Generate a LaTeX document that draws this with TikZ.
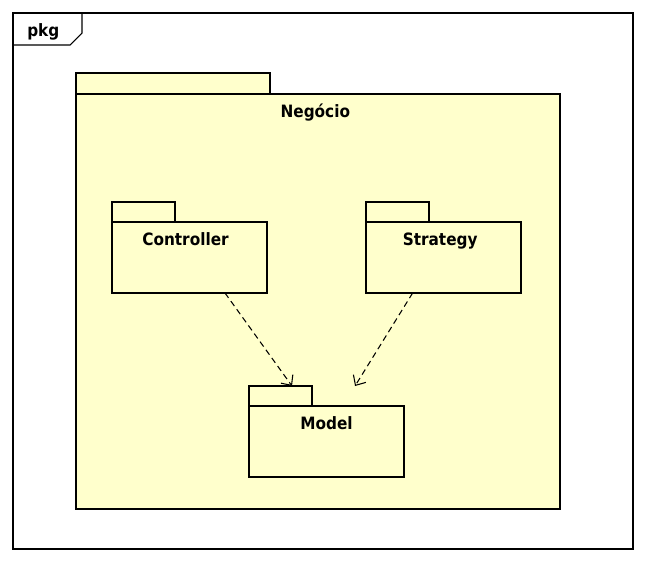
\documentclass[tikz,border=0pt]{standalone}
\usepackage{fontspec}
\newfontfamily\umlfont{DejaVu Sans}[FakeStretch=0.9]
\usepackage{tikz}
\usetikzlibrary{positioning, arrows.meta}
\definecolor{pkgyellow}{RGB}{255,255,204}
\tikzset{x=0.75pt, y=-0.75pt, % one unit is one pixel of the picture
pkgbody/.style={draw, line width=2pt, fill=pkgyellow, outer sep=0pt, inner sep=0pt}, % body of a package
pkgtab/.style={pkgbody, anchor=south west, minimum width=47.25pt, minimum height=15pt}, % tab on top of a package
smallpkg/.style={pkgbody, minimum width=116.25pt, minimum height=53.25pt},
pkglabel/.style={font=\umlfont\bfseries\fontsize{12.75}{15}\selectfont, inner sep=0pt, anchor=base},
dep/.style={dashed, dash pattern=on 4.5pt off 3pt, line width=0.8pt, -{Straight Barb[length=6pt, width=11pt]}}, % dependency
}
\begin{document}
\begin{tikzpicture}
\useasboundingbox (0,0) rectangle (646,562);

% frame
\node[draw, line width=0.8pt, outer sep=0pt, minimum width=465pt, minimum height=402pt] (frame) at (323,281) {};
\draw[line width=0.8pt] (frame.north west) -- ++(69,0) -- ++(0,20) -- ++(-12,12) -- ++(-57,0);
\node[pkglabel, anchor=base west] (pkg) at ([xshift=10.5pt, yshift=-17.25pt]frame.north west) {pkg};

% Negocio
\node[pkgbody, minimum width=363pt, minimum height=311.25pt] (neg) at (318,301.5) {};
\node[pkgtab, minimum width=145.5pt, minimum height=15.75pt] (negtab) at (neg.north west) {};
\node[pkglabel] (neglbl) at ([xshift=-2pt, yshift=-17.5pt]neg.north) {Negócio};

% packages inside
\node[smallpkg] (ctrl) at (189.5,257.5) {};
\node[pkgtab] (ctrltab) at (ctrl.north west) {};
\node[pkglabel] (ctrllbl) at ([xshift=-3pt, yshift=-17.5pt]ctrl.north) {Controller};

\node[smallpkg] (strat) at (443.5,257.5) {};
\node[pkgtab] (strattab) at (strat.north west) {};
\node[pkglabel] (stratlbl) at ([xshift=-2.5pt, yshift=-17.5pt]strat.north) {Strategy};

\node[smallpkg] (model) at (326.5,441.5) {};
\node[pkgtab] (modeltab) at (model.north west) {};
\node[pkglabel] (modellbl) at ([yshift=-17.5pt]model.north) {Model};

\draw[dep] (ctrl.-45) -- (modeltab.41);
\draw[dep] (strat.-131.6) -- ([xshift=21.4pt, yshift=15pt]model.north);

\end{tikzpicture}
\end{document}
